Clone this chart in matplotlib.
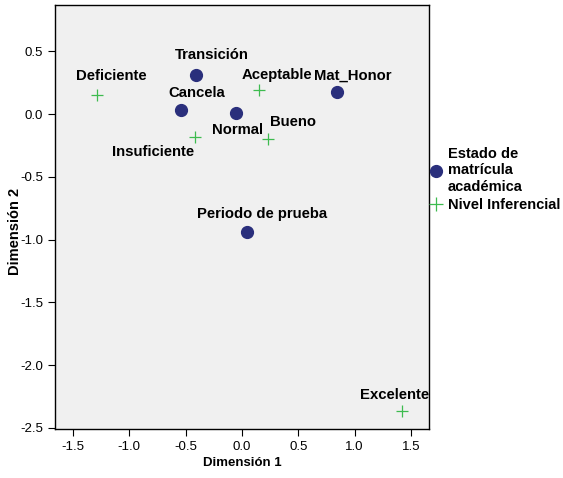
import matplotlib.pyplot as plt
from matplotlib.lines import Line2D

plt.rcParams['font.family'] = ['Liberation Sans', 'DejaVu Sans']

# Estado de matrícula académica
estado_labels = ['Transición', 'Cancela', 'Normal', 'Mat_Honor', 'Periodo de prueba']
estado_x = [-0.41, -0.54, -0.05, 0.84, 0.04]
estado_y = [0.31, 0.03, 0.01, 0.18, -0.94]

# Nivel Inferencial
nivel_labels = ['Deficiente', 'Aceptable', 'Insuficiente', 'Bueno', 'Excelente']
nivel_x = [-1.29, 0.15, -0.42, 0.23, 1.42]
nivel_y = [0.15, 0.19, -0.18, -0.20, -2.37]

x_ticks = [-1.5, -1.0, -0.5, 0.0, 0.5, 1.0, 1.5]
y_ticks = [0.5, 0.0, -0.5, -1.0, -1.5, -2.0, -2.5]

navy = '#2a2f7c'
green = '#3dbb4f'

# desplazamiento de etiquetas (pixeles)
estado_off = [(16, 20), (16, 17), (1, -17), (16, 16), (16, 18)]
nivel_off = [(15, 19), (18, 15), (-42, -15), (25, 17), (-7, 16)]

fig = plt.figure(figsize=(5.63, 4.78), dpi=100)
ax = fig.add_axes([0.0977, 0.1025, 0.6643, 0.887])
ax.set_facecolor('#f0f0f0')

ax.plot(estado_x, estado_y, 'o', color=navy, markersize=8.5, linestyle='none')
ax.plot(nivel_x, nivel_y, '+', color=green, markersize=9, markeredgewidth=0.9, linestyle='none')

for lab, x, y, off in zip(estado_labels, estado_x, estado_y, estado_off):
    ax.annotate(lab, (x, y), xytext=off, textcoords='offset pixels',
                ha='center', va='center', fontsize=10.7, fontweight='bold')
for lab, x, y, off in zip(nivel_labels, nivel_x, nivel_y, nivel_off):
    ax.annotate(lab, (x, y), xytext=off, textcoords='offset pixels',
                ha='center', va='center', fontsize=10.7, fontweight='bold')

ax.set_xlim(-1.66, 1.66)
ax.set_ylim(-2.51, 0.87)
ax.set_xticks(x_ticks)
ax.set_xticklabels([f'{v:.1f}' for v in x_ticks], fontsize=9.5)
ax.set_yticks(y_ticks)
ax.set_yticklabels([f'{v:.1f}' for v in y_ticks], fontsize=9.5)
ax.tick_params(direction='out', length=5, width=0.8)
ax.set_xlabel('Dimensión 1', fontsize=9.5, fontweight='bold', labelpad=3)
ax.set_ylabel('Dimensión 2', fontsize=10.5, fontweight='bold')
ax.yaxis.set_label_coords(-0.088, 0.465)
for s in ax.spines.values():
    s.set_linewidth(1.0)

handles = [
    Line2D([], [], marker='o', color=navy, markersize=8.5, linestyle='none'),
    Line2D([], [], marker='+', color=green, markersize=10, markeredgewidth=0.9, linestyle='none'),
]
fig.legend(handles, ['Estado de\nmatrícula\nacadémica', 'Nivel Inferencial'],
           loc='upper left', bbox_to_anchor=(0.762, 0.692), frameon=False,
           borderpad=0, borderaxespad=0, handlelength=0.9, handletextpad=0.4,
           labelspacing=0.3, prop={'size': 10.5, 'weight': 'bold'})

fig.savefig('out.png', dpi=100)
